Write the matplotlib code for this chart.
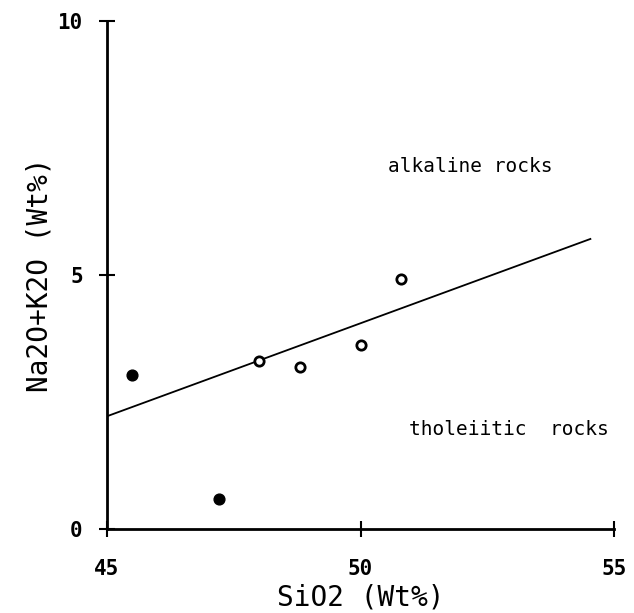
import matplotlib
matplotlib.use("Agg")
import matplotlib.pyplot as plt

# Data
filled_sio2 = [45.5, 47.2]
filled_alk = [3.03, 0.60]
open_sio2 = [48.0, 48.8, 50.0, 50.8]
open_alk = [3.31, 3.18, 3.62, 4.92]
line_sio2 = [45.0, 54.53]
line_alk = [2.22, 5.71]
xticks = [45, 50, 55]
yticks = [0, 5, 10]

fig = plt.figure(figsize=(6.34, 6.13), dpi=100)
ax = fig.add_axes([0.1688, 0.137, 0.8, 0.8287])
mono = "DejaVu Sans Mono"

ax.plot(line_sio2, line_alk, color="black", lw=1.3)
ax.scatter(filled_sio2, filled_alk, s=60, color="black", zorder=3)
ax.scatter(open_sio2, open_alk, s=45, facecolor="white", edgecolor="black",
           linewidths=2.0, zorder=3)

ax.set_xlim(45, 55)
ax.set_ylim(0, 10)
ax.set_xticks(xticks)
ax.set_yticks(yticks)
ax.set_xticklabels([str(v) for v in xticks], fontfamily=mono, fontweight="bold", fontsize=15)
ax.set_yticklabels([str(v) for v in yticks], fontfamily=mono, fontweight="bold", fontsize=15)
ax.tick_params(axis="both", direction="inout", length=11, width=1.5)
ax.tick_params(axis="x", pad=16)
ax.tick_params(axis="y", pad=12)
for s in ["top", "right"]:
    ax.spines[s].set_visible(False)
for s in ["left", "bottom"]:
    ax.spines[s].set_linewidth(2.0)

ax.set_xlabel("SiO2 (Wt%)", fontfamily=mono, fontsize=20, labelpad=3)
ax.set_ylabel("Na2O+K2O (Wt%)", fontfamily=mono, fontsize=20, labelpad=3)

ax.text(50.53, 7.13, "alkaline rocks", fontfamily=mono, fontsize=14,
        va="center", ha="left")
ax.text(50.95, 1.95, "tholeiitic  rocks", fontfamily=mono, fontsize=14,
        va="center", ha="left")

fig.savefig("out.png", dpi=100, facecolor="white")
